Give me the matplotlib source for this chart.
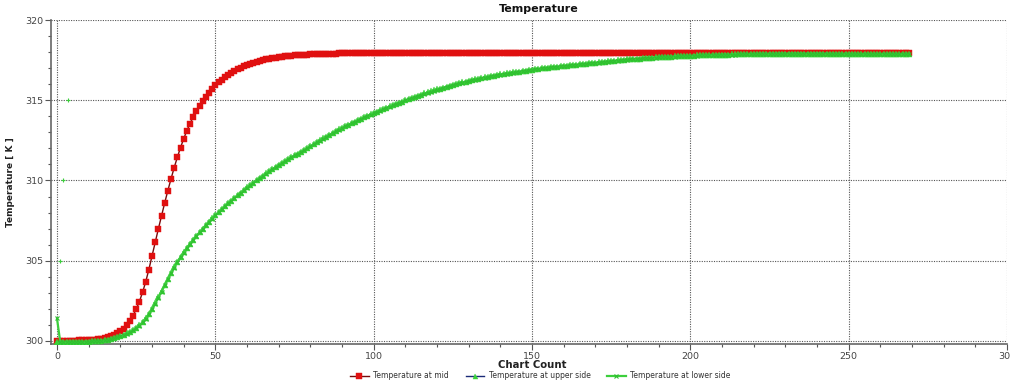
import numpy as np
import matplotlib
matplotlib.use("Agg")
import matplotlib.pyplot as plt
from matplotlib.ticker import MultipleLocator

# ---------------- data ----------------
temperature_mid = [
    300.00, 300.00, 300.00, 300.01, 300.01, 300.02, 300.02, 300.03, 300.04, 300.05,
    300.06, 300.07, 300.09, 300.12, 300.15, 300.19, 300.24, 300.30, 300.38, 300.48,
    300.60, 300.76, 300.98, 301.25, 301.58, 301.98, 302.45, 303.02, 303.68, 304.45,
    305.30, 306.15, 306.98, 307.80, 308.60, 309.37, 310.10, 310.80, 311.45, 312.05,
    312.60, 313.10, 313.55, 313.95, 314.32, 314.65, 314.95, 315.22, 315.47, 315.70,
    315.92, 316.11, 316.28, 316.43, 316.57, 316.70, 316.82, 316.93, 317.03, 317.12,
    317.20, 317.27, 317.34, 317.40, 317.46, 317.51, 317.55, 317.59, 317.63, 317.66,
    317.69, 317.72, 317.74, 317.76, 317.78, 317.80, 317.81, 317.83, 317.84, 317.85,
    317.86, 317.87, 317.88, 317.88, 317.89, 317.90, 317.90, 317.91, 317.91, 317.92,
    317.92, 317.92, 317.93, 317.93, 317.93, 317.94, 317.94, 317.94, 317.94, 317.95,
    317.95, 317.95, 317.95, 317.95, 317.95, 317.95, 317.95, 317.95, 317.95, 317.95,
    317.95, 317.95, 317.95, 317.95, 317.95, 317.95, 317.95, 317.95, 317.95, 317.95,
    317.95, 317.95, 317.95, 317.95, 317.95, 317.95, 317.95, 317.95, 317.95, 317.95,
    317.95, 317.95, 317.95, 317.95, 317.95, 317.95, 317.95, 317.95, 317.95, 317.95,
    317.95, 317.95, 317.95, 317.95, 317.95, 317.95, 317.95, 317.95, 317.95, 317.95,
    317.95, 317.95, 317.95, 317.95, 317.95, 317.95, 317.95, 317.95, 317.95, 317.95,
    317.95, 317.95, 317.95, 317.95, 317.95, 317.95, 317.95, 317.95, 317.95, 317.95,
    317.95, 317.95, 317.95, 317.95, 317.95, 317.95, 317.95, 317.95, 317.95, 317.95,
    317.95, 317.95, 317.95, 317.95, 317.95, 317.95, 317.95, 317.95, 317.95, 317.95,
    317.95, 317.95, 317.95, 317.95, 317.95, 317.95, 317.95, 317.95, 317.95, 317.95,
    317.95, 317.95, 317.95, 317.95, 317.95, 317.95, 317.95, 317.95, 317.95, 317.95,
    317.95, 317.95, 317.95, 317.95, 317.95, 317.95, 317.95, 317.95, 317.95, 317.95,
    317.95, 317.95, 317.95, 317.95, 317.95, 317.95, 317.95, 317.95, 317.95, 317.95,
    317.95, 317.95, 317.95, 317.95, 317.95, 317.95, 317.95, 317.95, 317.95, 317.95,
    317.95, 317.95, 317.95, 317.95, 317.95, 317.95, 317.95, 317.95, 317.95, 317.95,
    317.95, 317.95, 317.95, 317.95, 317.95, 317.95, 317.95, 317.95, 317.95, 317.94,
    317.94, 317.94, 317.94, 317.94, 317.94, 317.94, 317.94, 317.94, 317.94, 317.94,
]

temperature_upper = [
    299.95, 299.95, 299.95, 299.95, 299.95, 299.95, 299.95, 299.95, 299.95, 299.96,
    299.96, 299.97, 299.98, 300.00, 300.02, 300.05, 300.08, 300.12, 300.17, 300.23,
    300.30, 300.38, 300.47, 300.57, 300.68, 300.82, 300.98, 301.17, 301.40, 301.68,
    302.00, 302.35, 302.72, 303.10, 303.48, 303.86, 304.23, 304.58, 304.92, 305.23,
    305.52, 305.79, 306.05, 306.30, 306.54, 306.77, 307.00, 307.22, 307.43, 307.64,
    307.84, 308.03, 308.22, 308.40, 308.58, 308.75, 308.92, 309.09, 309.25, 309.41,
    309.57, 309.72, 309.87, 310.02, 310.16, 310.30, 310.44, 310.58, 310.71, 310.84,
    310.97, 311.09, 311.21, 311.33, 311.45, 311.57, 311.68, 311.79, 311.90, 312.01,
    312.13, 312.26, 312.38, 312.50, 312.62, 312.74, 312.85, 312.96, 313.07, 313.18,
    313.28, 313.38, 313.48, 313.58, 313.67, 313.76, 313.85, 313.94, 314.03, 314.12,
    314.20, 314.29, 314.37, 314.45, 314.53, 314.61, 314.69, 314.77, 314.85, 314.92,
    315.00, 315.07, 315.14, 315.21, 315.28, 315.35, 315.42, 315.49, 315.55, 315.61,
    315.67, 315.73, 315.79, 315.85, 315.91, 315.96, 316.01, 316.06, 316.11, 316.16,
    316.21, 316.26, 316.30, 316.34, 316.38, 316.42, 316.46, 316.50, 316.54, 316.58,
    316.61, 316.64, 316.67, 316.70, 316.73, 316.76, 316.79, 316.82, 316.85, 316.88,
    316.91, 316.94, 316.96, 316.99, 317.01, 317.04, 317.06, 317.08, 317.10, 317.12,
    317.14, 317.16, 317.18, 317.20, 317.22, 317.24, 317.26, 317.28, 317.30, 317.32,
    317.34, 317.36, 317.38, 317.40, 317.42, 317.44, 317.46, 317.48, 317.50, 317.52,
    317.54, 317.56, 317.57, 317.59, 317.60, 317.62, 317.63, 317.65, 317.66, 317.67,
    317.68, 317.69, 317.70, 317.71, 317.72, 317.73, 317.74, 317.75, 317.76, 317.77,
    317.77, 317.78, 317.79, 317.80, 317.80, 317.81, 317.82, 317.82, 317.83, 317.84,
    317.84, 317.85, 317.85, 317.86, 317.86, 317.87, 317.87, 317.88, 317.88, 317.88,
    317.89, 317.89, 317.89, 317.90, 317.90, 317.90, 317.90, 317.90, 317.91, 317.91,
    317.91, 317.91, 317.91, 317.91, 317.91, 317.91, 317.91, 317.91, 317.91, 317.91,
    317.91, 317.91, 317.91, 317.91, 317.90, 317.90, 317.90, 317.90, 317.90, 317.90,
    317.90, 317.90, 317.89, 317.89, 317.89, 317.89, 317.89, 317.89, 317.89, 317.89,
    317.89, 317.88, 317.88, 317.88, 317.88, 317.88, 317.88, 317.88, 317.87, 317.87,
]

temperature_lower = [
    301.40, 299.96, 299.95, 299.95, 299.95, 299.95, 299.95, 299.95, 299.95, 299.96,
    299.96, 299.97, 299.98, 300.00, 300.02, 300.04, 300.07, 300.11, 300.16, 300.22,
    300.29, 300.37, 300.46, 300.56, 300.67, 300.80, 300.96, 301.15, 301.38, 301.66,
    301.98, 302.33, 302.70, 303.08, 303.46, 303.84, 304.21, 304.57, 304.91, 305.22,
    305.51, 305.78, 306.04, 306.29, 306.53, 306.76, 306.99, 307.21, 307.42, 307.63,
    307.83, 308.02, 308.21, 308.39, 308.57, 308.74, 308.91, 309.08, 309.24, 309.40,
    309.56, 309.71, 309.86, 310.01, 310.15, 310.29, 310.43, 310.57, 310.70, 310.83,
    310.96, 311.08, 311.20, 311.32, 311.44, 311.56, 311.67, 311.78, 311.89, 312.00,
    312.12, 312.25, 312.37, 312.49, 312.61, 312.73, 312.84, 312.95, 313.06, 313.17,
    313.27, 313.37, 313.47, 313.57, 313.66, 313.75, 313.84, 313.93, 314.02, 314.11,
    314.19, 314.28, 314.36, 314.44, 314.52, 314.60, 314.68, 314.76, 314.84, 314.91,
    314.99, 315.06, 315.13, 315.20, 315.27, 315.34, 315.41, 315.48, 315.54, 315.60,
    315.66, 315.72, 315.78, 315.84, 315.90, 315.95, 316.00, 316.05, 316.10, 316.15,
    316.20, 316.25, 316.29, 316.33, 316.37, 316.41, 316.45, 316.49, 316.53, 316.57,
    316.60, 316.63, 316.66, 316.69, 316.72, 316.75, 316.78, 316.81, 316.84, 316.87,
    316.90, 316.93, 316.95, 316.98, 317.00, 317.03, 317.05, 317.07, 317.09, 317.11,
    317.13, 317.15, 317.17, 317.19, 317.21, 317.23, 317.25, 317.27, 317.29, 317.31,
    317.33, 317.35, 317.37, 317.39, 317.41, 317.43, 317.45, 317.47, 317.49, 317.51,
    317.53, 317.55, 317.56, 317.58, 317.59, 317.61, 317.62, 317.64, 317.65, 317.66,
    317.67, 317.68, 317.69, 317.70, 317.71, 317.72, 317.73, 317.74, 317.75, 317.76,
    317.76, 317.77, 317.78, 317.79, 317.79, 317.80, 317.81, 317.81, 317.82, 317.83,
    317.83, 317.84, 317.84, 317.85, 317.85, 317.86, 317.86, 317.87, 317.87, 317.87,
    317.88, 317.88, 317.88, 317.89, 317.89, 317.89, 317.89, 317.89, 317.90, 317.90,
    317.90, 317.90, 317.90, 317.90, 317.90, 317.90, 317.90, 317.90, 317.90, 317.90,
    317.90, 317.90, 317.90, 317.90, 317.89, 317.89, 317.89, 317.89, 317.89, 317.89,
    317.89, 317.89, 317.88, 317.88, 317.88, 317.88, 317.88, 317.88, 317.88, 317.88,
    317.88, 317.87, 317.87, 317.87, 317.87, 317.87, 317.87, 317.87, 317.86, 317.86,
]

# isolated stray points near the y axis
stray_count = [1.0, 2.0, 3.5]
stray_temp = [305.0, 310.0, 315.0]

series_labels = ["Temperature at mid", "Temperature at upper side", "Temperature at lower side"]

# ---------------- figure ----------------
W, H = 1010, 383
fig = plt.figure(figsize=(W / 100, H / 100), dpi=100)
ax = fig.add_axes([51 / W, 1 - 344 / H, (1007 - 51) / W, (344 - 20) / H])

count_mid = np.arange(len(temperature_mid))
count_up = np.arange(len(temperature_upper))
count_low = np.arange(len(temperature_lower))

ax.plot(count_mid, temperature_mid, color="#7a0a0a", lw=1.0,
        marker="s", ms=4.8, mfc="#e01010", mec="#e01010", mew=0.3,
        label=series_labels[0], zorder=3)
ax.plot(count_up, temperature_upper, color="#1a2a78", lw=1.0,
        marker="^", ms=4.0, mfc="#3ad23a", mec="#3ad23a", mew=0.3,
        label=series_labels[1], zorder=4)
ax.plot(count_low, temperature_lower, color="#3ccf3c", lw=1.6,
        marker="x", ms=3.5, mfc="#2fbf2f", mec="#2fbf2f", mew=0.8,
        label=series_labels[2], zorder=5)
ax.plot(stray_count, stray_temp, ls="none", marker="+", ms=3, mew=0.8,
        color="#3ccf3c", zorder=5)

ax.set_xlim(-1.9, 300)
ax.set_ylim(299.81, 320)

ax.xaxis.set_major_locator(MultipleLocator(50))
ax.xaxis.set_minor_locator(MultipleLocator(10))
ax.yaxis.set_major_locator(MultipleLocator(5))
ax.yaxis.set_minor_locator(MultipleLocator(1))

ax.grid(True, which="major", color="#555555", ls=(0, (1, 1.2)), lw=0.8)
ax.set_axisbelow(True)

for s in ["top", "right"]:
    ax.spines[s].set_visible(False)
for s in ["left", "bottom"]:
    ax.spines[s].set_color("#666666")
    ax.spines[s].set_linewidth(1.2)

ax.tick_params(which="major", direction="out", length=4, width=0.8,
               color="#555555", labelsize=6.8, labelcolor="#444444", pad=1.5)
ax.tick_params(which="minor", direction="out", length=2.5, width=0.8,
               color="#555555")

ax.set_xlabel("Chart Count", fontsize=7.3, fontweight="bold", color="#222222",
              va="center")
ax.xaxis.set_label_coords(0.503, -0.066)
ax.set_ylabel("Temperature [ K ]", fontsize=6.5, fontweight="bold", color="#222222")
ax.yaxis.set_label_coords(-0.038, 0.5)

fig.text(0.533, 1 - 9 / H, "Temperature", ha="center", va="center",
         fontsize=8, fontweight="bold", color="#111111")

leg = fig.legend(loc="center", bbox_to_anchor=(0.535, 1 - 376 / H), ncol=3,
                 frameon=False, fontsize=5.5, handlelength=2.4,
                 columnspacing=2.2, handletextpad=0.6, markerscale=0.9,
                 borderpad=0.1)
for t in leg.get_texts():
    t.set_color("#333333")

fig.savefig("out.png", dpi=100)
